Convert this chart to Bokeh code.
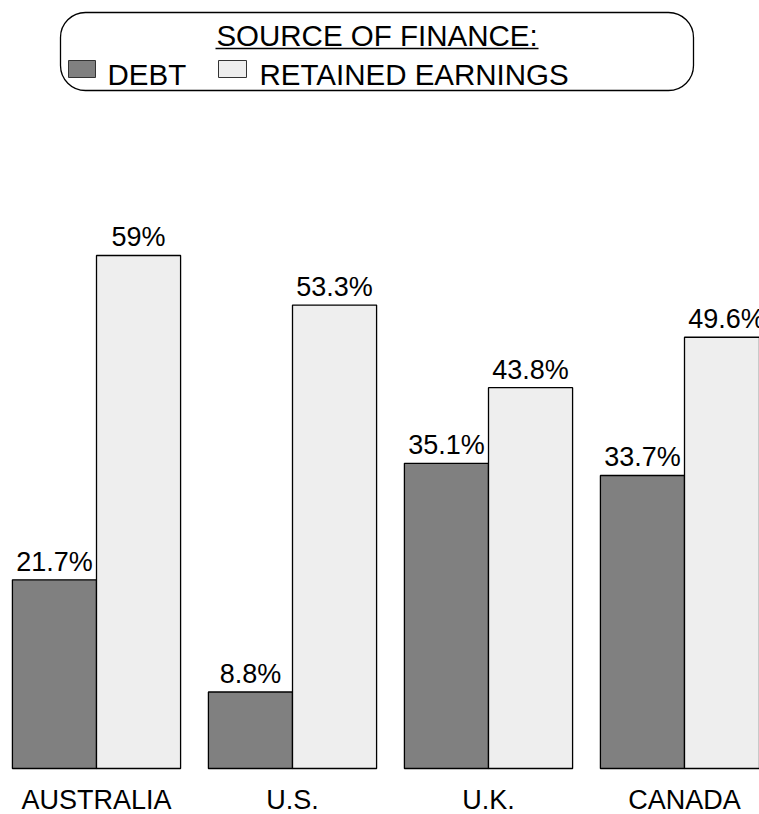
from bokeh.plotting import figure
from bokeh.models import ColumnDataSource, Range1d, BoxAnnotation
from bokeh.core.properties import value
from bokeh.embed import file_html
from bokeh.resources import INLINE

# Share of investment finance by source (%)
countries = ["AUSTRALIA", "U.S.", "U.K.", "CANADA"]
debt = [21.7, 8.8, 35.1, 33.7]
retained = [59.0, 53.3, 43.8, 49.6]
series_names = ["DEBT", "RETAINED EARNINGS"]
legend_title = "SOURCE OF FINANCE:"

W, H = 759, 814
FONT = value("Liberation Sans")
DEBT_COLOR = "#808080"
RET_COLOR = "#eeeeee"

# Layout: one category unit = 196 px, one percentage point = 8.695 px
X_UNIT = 196.0
Y_UNIT = 8.695
X0 = -96.0 / X_UNIT            # data x at the left edge of the frame
Y_BASE_PX = 768.0              # pixel row of the zero line (from top)


def px_x(px):
    return X0 + px / X_UNIT


def px_y(py):
    return (Y_BASE_PX - py) / Y_UNIT


p = figure(width=W, height=H, output_backend="svg", toolbar_location=None,
           x_range=Range1d(px_x(0), px_x(W)), y_range=Range1d(px_y(H), px_y(0)),
           min_border=0, x_axis_location=None, y_axis_location=None,
           outline_line_color=None, background_fill_color="white")
p.xgrid.visible = False
p.ygrid.visible = False

idx = list(range(len(countries)))
half = 0.2145
bw = 0.429

src_d = ColumnDataSource(dict(x=[i - half for i in idx], top=debt,
                              lab=[f"{v:g}%" for v in debt]))
src_r = ColumnDataSource(dict(x=[i + half for i in idx], top=retained,
                              lab=[f"{v:g}%" for v in retained]))

for src, col in ((src_d, DEBT_COLOR), (src_r, RET_COLOR)):
    p.vbar(x="x", top="top", bottom=0, width=bw, source=src,
           fill_color=col, line_color="black", line_width=1.3)
    p.text(x="x", y="top", text="lab", source=src, text_font=FONT,
           text_font_size="27px", text_align="center",
           text_baseline="middle", y_offset=-18, text_color="black")

# Category names under each group
p.text(x=idx, y=[px_y(799)] * len(idx), text=countries, text_font=FONT,
       text_font_size="27px", text_align="center",
       text_baseline="middle", text_color="black")

# Legend panel
p.add_layout(BoxAnnotation(left=px_x(60), right=px_x(693),
                           top=px_y(12), bottom=px_y(90),
                           border_radius=25, fill_color="white", fill_alpha=1,
                           line_color="black", line_alpha=1, line_width=1.3,
                           level="underlay"))
p.text(x=[px_x(376.5)], y=[px_y(35)], text=[legend_title], text_font=FONT,
       text_font_size="29.5px", text_align="center",
       text_baseline="middle", text_color="black")
p.segment(x0=[px_x(215)], y0=[px_y(48)], x1=[px_x(538)], y1=[px_y(48)],
          line_color="black", line_width=1.5)

p.quad(left=[px_x(68), px_x(218)], right=[px_x(95), px_x(246)],
       top=[px_y(60), px_y(60)], bottom=[px_y(77), px_y(77)],
       fill_color=[DEBT_COLOR, RET_COLOR], line_color="#333333", line_width=1)
p.text(x=[px_x(107), px_x(259)], y=[px_y(74), px_y(74)], text=series_names,
       text_font=FONT, text_font_size="29.5px", text_align="left",
       text_baseline="middle", text_color="black")

open("out.html", "w").write(file_html(p, INLINE))
